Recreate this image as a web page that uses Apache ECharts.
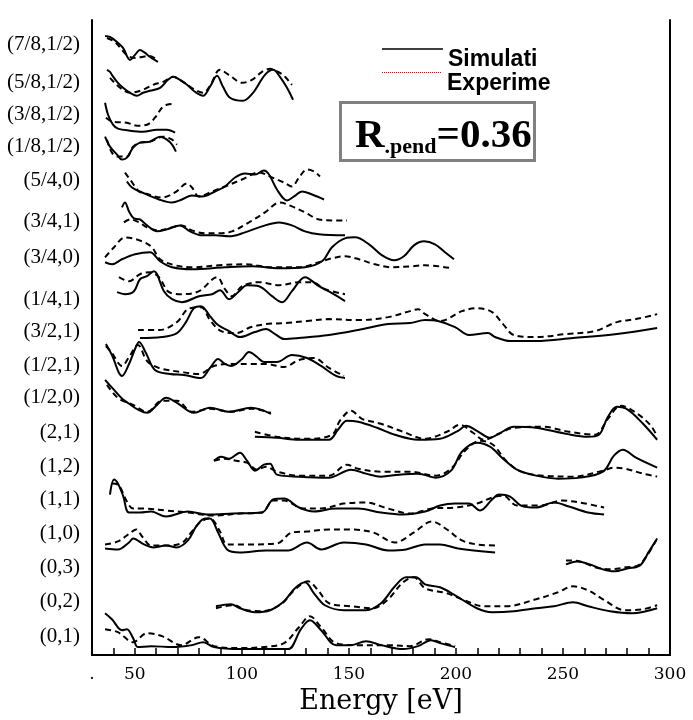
<!DOCTYPE html>
<html>
<head>
<meta charset="utf-8">
<script src="https://cdn.jsdelivr.net/npm/echarts@6/dist/echarts.min.js"></script>
<style>
  html, body { margin: 0; background: #fff; }
  #chart { width: 693px; height: 720px; }
</style>
</head>
<body>
<div id="chart"></div>
<script>
// beam labels, top to bottom
const rowLabels = ['(7/8,1/2)', '(5/8,1/2)', '(3/8,1/2)', '(1/8,1/2)', '(5/4,0)', '(3/4,1)', '(3/4,0)', '(1/4,1)', '(3/2,1)',
  '(1/2,1)', '(1/2,0)', '(2,1)', '(1,2)', '(1,1)', '(1,0)', '(0,3)', '(0,2)', '(0,1)']
// vertical offset of each curve (a.u.)
const rowOffset = [612, 574, 542, 510, 476, 435, 399, 357, 325, 290, 258, 223, 189, 156, 122, 88, 54, 19]
const xTickLabels = [30, 50, 100, 150, 200, 250, 300]

// simulated I(V) curves, [energy eV, intensity a.u.]
const simulated = [
  [[36.1, 9], [38.4, 8], [41.7, 3], [44.5, -3], [47.8, -15], [50.1, -10], [52.4, -5], [54.8, -8], [57.1, -12], [60.8, -17]],
  [[37.0, 13], [38.4, 11], [39.3, 8], [41.7, 1], [44.5, -5], [47.8, -10], [51.0, -13], [53.8, -10], [57.1, -8], [61.8, -5], [65.5, 3], [67.8, 6], [71.1, 3], [74.4, -2], [78.1, -9], [81.9, -13], [85.1, -4], [88.4, 7], [91.2, -4], [94.5, -15], [100.5, -18], [105.2, -10], [110.8, 8], [114.6, 13], [117.8, 6], [121.1, -5], [123.9, -17]],
  [[36.1, 12], [37.5, 0], [39.8, -10], [42.1, -14], [47.8, -16], [53.8, -17], [60.4, -15], [65.0, -15], [68.8, -18]],
  [[36.1, 10], [38.4, 0], [41.7, -8], [44.0, -13], [46.3, -11], [49.2, -1], [52.4, 4], [57.1, 5], [61.8, 10], [65.0, 7], [67.4, 2], [69.2, -5]],
  [[46.3, -1], [48.7, -7], [53.4, -12], [61.3, -19], [67.4, -22], [72.0, -19], [76.7, -15], [81.4, -16], [87.5, -11], [92.1, -6], [96.8, 3], [101.5, 7], [106.1, 6], [110.3, 10], [112.7, 6], [116.4, -9], [121.1, -20], [124.4, -16], [128.1, -11], [132.8, -14], [138.4, -19]],
  [[44.0, 14], [45.4, 19], [47.3, 10], [49.6, 3], [52.4, 2], [55.7, -4], [60.4, -10], [65.0, -8], [71.1, -4], [75.8, -10], [81.4, -14], [87.5, -14], [94.0, -15], [101.5, -11], [109.4, -5], [117.4, -1], [123.4, -4], [129.5, -10], [136.0, -13], [148.2, -14]],
  [[36.1, -5], [39.3, -7], [44.0, -2], [50.1, 3], [57.1, 5], [61.8, -4], [67.4, -10], [76.7, -12], [92.1, -10], [104.7, -9], [117.4, -11], [129.5, -10], [137.4, -4], [142.1, 10], [148.2, 19], [152.9, 20], [159.4, 13], [165.5, 2], [171.1, -3], [175.7, 1], [180.4, 12], [185.1, 16], [190.2, 13], [194.9, 5], [199.1, -2]],
  [[41.7, 7], [45.4, 5], [49.6, 8], [52.4, 20], [55.7, 23], [59.0, 28], [60.4, 25], [63.6, 8], [67.4, 0], [72.0, -3], [80.0, 3], [86.1, 5], [89.8, 9], [94.0, 0], [98.7, 8], [102.4, 14], [108.0, 13], [114.1, 3], [118.8, -3], [123.4, 8], [129.5, 22], [136.0, 13], [142.1, 6], [148.2, -2]],
  [[52.4, -7], [62.7, -6], [69.7, -2], [73.9, 9], [77.6, 23], [80.9, 25], [85.1, 15], [88.9, 6], [94.0, 0], [99.1, -6], [106.1, -1], [111.3, 2], [115.5, -3], [119.7, -8], [126.7, -7], [140.7, -4], [154.3, 1], [168.3, 7], [178.5, 8], [185.6, 11], [191.6, 10], [199.6, 4], [206.1, -4], [215.0, -2], [218.3, -6], [225.3, -10], [237.4, -10], [254.7, -7], [275.2, -3], [294.0, 3]],
  [[36.5, 22], [39.3, 11], [44.0, -10], [47.3, 2], [50.1, 17], [52.0, 24], [55.2, 13], [59.4, -4], [66.4, -8], [73.0, -9], [80.9, -12], [85.1, -2], [88.9, 7], [92.1, 2], [94.9, 0], [100.1, 7], [103.3, 14], [107.1, 9], [110.3, 4], [116.4, 4], [123.4, 11], [130.4, 8], [137.0, 0], [144.0, -10], [148.2, -12]],
  [[36.1, 18], [40.3, 8], [45.4, -3], [55.7, -15], [60.4, -7], [64.6, 0], [69.7, -5], [77.6, -15], [85.1, -10], [94.0, -14], [104.3, -10], [113.6, -16]],
  [[106.1, -4], [116.4, -5], [126.7, -7], [140.7, -7], [144.9, 3], [149.1, 12], [154.3, 11], [163.1, 5], [171.5, -2], [182.3, -7], [192.6, -6], [201.0, 2], [204.7, 7], [209.8, 2], [215.9, -5], [220.1, -1], [227.1, 6], [237.4, 5], [251.4, -1], [261.7, -4], [266.8, -2], [271.0, 16], [275.2, 26], [280.4, 23], [287.4, 9], [294.0, -7]],
  [[87.0, 6], [90.3, 10], [94.0, 8], [99.1, 14], [102.4, 6], [106.1, -4], [110.3, 2], [113.2, 3], [116.4, -8], [126.7, -10], [140.7, -11], [151.0, -3], [158.0, -7], [165.0, -10], [173.4, -8], [182.3, -7], [190.7, -11], [197.7, -4], [202.8, 15], [209.8, 24], [215.9, 20], [222.0, 8], [228.5, -3], [237.4, -9], [247.7, -12], [258.0, -11], [268.7, -5], [273.8, 11], [278.0, 17], [284.1, 9], [294.0, -1]],
  [[38.4, 5], [40.3, 20], [42.1, 16], [44.5, 4], [47.3, -13], [52.4, -13], [57.6, -12], [64.6, -17], [74.8, -12], [83.7, -15], [95.9, -14], [109.4, -13], [114.6, 0], [119.7, 1], [126.7, -8], [133.7, -12], [144.0, -9], [154.3, -9], [165.0, -13], [175.3, -15], [185.6, -12], [192.6, -6], [199.6, -4], [206.1, -4], [211.3, -11], [216.9, 0], [220.1, 5], [225.3, 3], [230.4, -6], [237.4, -8], [245.8, -3], [252.8, -7], [261.7, -13], [269.2, -15]],
  [[36.1, -15], [42.1, -16], [47.3, -9], [49.2, -5], [54.3, -11], [58.5, -14], [64.6, -12], [69.7, -14], [74.8, -7], [79.0, 8], [82.8, 15], [85.1, 15], [88.9, 1], [93.1, -16], [99.1, -19], [111.3, -17], [121.6, -17], [130.4, -9], [137.0, -16], [147.7, -9], [158.0, -11], [168.3, -17], [176.7, -16], [185.6, -11], [192.6, -11], [201.0, -15], [218.3, -19]],
  [[251.4, 3], [256.6, 6], [262.6, 3], [268.7, -2], [273.8, -4], [280.4, -1], [286.0, 2], [290.2, 16], [294.0, 29]],
  [[87.9, -5], [94.9, -3], [99.1, -7], [106.1, -11], [113.2, -9], [119.7, 0], [124.8, 13], [129.5, 19], [133.7, 8], [138.8, -4], [147.7, -9], [158.0, -9], [165.0, -2], [171.5, 15], [176.7, 24], [181.4, 24], [185.6, 17], [192.6, 14], [199.6, 6], [209.8, -7], [216.9, -11], [227.1, -10], [237.4, -7], [245.8, -5], [254.7, -1], [261.7, -5], [272.0, -10], [282.3, -12], [294.0, -7]],
  [[36.1, 23], [39.3, 17], [44.0, 6], [46.3, 7], [49.2, -2], [51.5, -11], [57.6, -10], [67.8, -11], [76.7, -9], [81.9, -6], [87.0, -11], [99.1, -13], [113.2, -13], [121.6, -13], [127.6, 7], [131.8, 16], [137.0, 6], [144.0, -9], [151.0, -9], [158.0, -5], [165.0, -9], [175.3, -13], [182.3, -10], [188.4, -4], [192.6, -7], [199.6, -11]]
]

// experimental I(V) curves, [energy eV, intensity a.u.]
const experiment = [
  [[37.0, 7], [40.7, 3], [44.0, -5], [46.8, -11], [50.1, -13], [53.4, -12], [57.1, -11], [60.8, -16]],
  [[38.4, 5], [43.1, -5], [47.8, -10], [53.8, -7], [58.5, -2], [63.2, 1], [67.8, 6], [72.5, 1], [78.1, -7], [81.9, -10], [85.1, -3], [89.8, 13], [94.5, 7], [100.1, 0], [104.7, 3], [109.4, 11], [113.2, 14], [117.8, 10], [120.2, 6], [123.4, -2]],
  [[36.5, -3], [39.8, -7], [46.3, -8], [51.0, -11], [55.7, -10], [59.4, -3], [62.7, 7], [65.0, 10], [68.8, 11]],
  [[37.0, 7], [39.3, -6], [42.1, -10], [46.3, -10], [49.2, 0], [52.4, 4], [57.1, 5], [63.2, 10], [67.4, 7], [69.7, 2]],
  [[45.4, 8], [47.8, 1], [52.0, -11], [54.8, -13], [62.7, -17], [68.8, -12], [74.4, -3], [76.7, -7], [80.0, -16], [86.1, -11], [92.1, -6], [100.1, 1], [108.0, 8], [114.1, 3], [119.7, -2], [123.4, -6], [126.7, 3], [130.4, 11], [133.7, 9], [136.5, 4]],
  [[44.9, -1], [47.8, 2], [52.0, -1], [55.7, -6], [61.3, -9], [67.4, -6], [72.0, -4], [76.7, -9], [82.8, -12], [89.3, -12], [95.4, -10], [103.3, -1], [110.8, 9], [117.8, 19], [123.4, 15], [129.5, 9], [136.0, 2], [142.1, 1], [149.1, 1]],
  [[36.1, 0], [40.3, 10], [45.4, 20], [53.4, 16], [58.0, 10], [61.8, -2], [68.8, -8], [76.7, -10], [89.3, -8], [101.5, -7], [114.1, -10], [126.7, -10], [136.0, -5], [142.1, -1], [148.2, 1], [154.7, -2], [162.2, -7], [170.1, -10], [179.5, -9], [185.6, -8], [198.2, -11]],
  [[42.6, 22], [47.3, 18], [52.4, 25], [57.1, 27], [61.3, 22], [66.0, 7], [72.0, 5], [80.0, 8], [88.4, 22], [92.1, 10], [95.4, 3], [100.1, 13], [108.0, 17], [117.4, 14], [126.7, 17], [132.8, 17], [138.8, 10], [148.2, 5]],
  [[51.5, 1], [61.3, 1], [69.7, 9], [74.8, 22], [80.9, 24], [85.1, 11], [90.3, 0], [97.3, -2], [104.3, 4], [111.3, 7], [119.7, 8], [130.4, 10], [140.7, 12], [154.3, 11], [168.3, 14], [178.5, 20], [182.3, 22], [185.6, 17], [192.6, 10], [202.8, 20], [209.8, 23], [216.9, 19], [222.0, 7], [227.1, -4], [237.4, -6], [251.4, -3], [265.0, 0], [275.2, 9], [284.1, 12], [294.0, 17]],
  [[36.5, 20], [39.3, 13], [44.0, 0], [47.3, 9], [51.5, 21], [55.7, 5], [61.3, -2], [71.6, -6], [80.0, -8], [87.0, 0], [95.9, 2], [104.3, 2], [111.3, 2], [119.7, -1], [126.7, 6], [133.7, 8], [140.7, -2], [147.7, -10]],
  [[37.0, 13], [42.1, 0], [49.2, -7], [55.7, -14], [62.7, -3], [69.7, -3], [76.7, -14], [85.1, -11], [94.9, -14], [104.3, -11], [113.6, -15]],
  [[106.1, 1], [116.4, -4], [130.4, -6], [142.1, -2], [145.8, 12], [151.0, 22], [156.1, 14], [165.0, 9], [175.3, 1], [185.6, -6], [195.8, 1], [201.9, 8], [208.0, 0], [213.1, -7], [220.1, -1], [227.1, 5], [240.7, 6], [252.8, 1], [265.0, -2], [271.0, 14], [277.1, 27], [284.1, 20], [291.1, 7], [294.0, -4]],
  [[87.0, 6], [92.1, 8], [97.3, 6], [102.4, 4], [107.1, -3], [111.3, 0], [116.4, -5], [126.7, -9], [140.7, -9], [149.1, 2], [154.3, -2], [165.0, -5], [178.5, -5], [190.7, -9], [197.7, -2], [204.7, 17], [211.3, 26], [217.3, 22], [223.4, 6], [230.4, -5], [240.7, -9], [254.7, -10], [268.7, -4], [273.8, -1], [279.0, -2], [287.4, -7], [294.0, -10]],
  [[39.3, 16], [42.1, 15], [46.3, -2], [49.2, -9], [54.3, -9], [64.6, -11], [74.8, -13], [87.0, -16], [99.1, -14], [109.4, -13], [114.6, -1], [119.7, -1], [128.6, -9], [137.0, -9], [147.7, -4], [158.0, -3], [168.3, -9], [178.5, -14], [188.8, -9], [199.6, -8], [209.8, -4], [216.9, 2], [222.0, 4], [228.5, -6], [239.3, -6], [249.6, -1], [258.0, -3], [269.2, -8]],
  [[36.1, -11], [42.1, -8], [48.2, 1], [50.6, 4], [53.4, -3], [57.6, -12], [64.6, -12], [71.6, -10], [76.7, 2], [80.9, 12], [85.1, 15], [89.8, 2], [93.1, -11], [102.4, -11], [116.4, -10], [123.4, 1], [130.4, 2], [140.7, 4], [151.0, 4], [161.3, 1], [171.5, -9], [180.4, 1], [188.8, 12], [195.8, 4], [202.8, -7], [209.8, -11], [218.3, -12]],
  [[251.4, 7], [258.0, 6], [265.0, 0], [272.0, -2], [279.0, 0], [285.1, 2], [289.3, 12], [293.5, 27]],
  [[87.9, -7], [95.9, -4], [102.4, -9], [109.4, -10], [118.3, -3], [124.4, 11], [130.9, 20], [135.6, 11], [140.7, -2], [151.0, -5], [161.3, -7], [168.3, 2], [175.3, 19], [180.4, 24], [185.6, 13], [195.8, 8], [202.8, 2], [213.1, -5], [223.4, -5], [237.4, 2], [247.7, 9], [254.7, 15], [261.7, 11], [268.7, 2], [279.0, -9], [287.4, -8], [294.0, -4]],
  [[36.1, 7], [42.1, 4], [49.2, -6], [55.7, 3], [62.7, 0], [71.6, -9], [80.0, -1], [87.0, -10], [99.1, -12], [109.4, -11], [119.7, -7], [126.7, 9], [131.8, 20], [137.0, 9], [144.0, -7], [154.3, -9], [168.3, -9], [178.5, -10], [187.4, -3], [192.6, -6], [199.6, -10]]
]

const series = []
rowLabels.forEach((label, i) => {
  series.push({
    name: 'Simulati', type: 'line', smooth: 0.35, symbol: 'none', silent: true,
    data: simulated[i].map(p => [p[0], rowOffset[i] + p[1]]),
    lineStyle: { color: '#000', width: 2 },
  })
  series.push({
    name: 'Experime', type: 'line', smooth: 0.35, symbol: 'none', silent: true,
    data: experiment[i].map(p => [p[0], rowOffset[i] + p[1]]),
    lineStyle: { color: '#000', width: 2, type: [6, 4] },
  })
})

// dotted legend swatch
let dots = ''
for (let k = 0; k < 60; k += 2) dots += `M${k},0h1v1h-1z`

const legendText = {
  fontFamily: 'Liberation Sans', fontWeight: 'bold', fontSize: 23, color: '#000',
  rich: { t: { fontFamily: 'Liberation Sans', fontWeight: 'bold', fontSize: 23, color: '#000', padding: [22, 0, 0, 0] } },
}

const chart = echarts.init(document.getElementById('chart'), null, { renderer: 'canvas' })
chart.setOption({
  animation: false,
  backgroundColor: '#fff',
  grid: { left: 92, right: 23, top: 20, bottom: 63 },
  title: {
    text: '{r|R}{s|.pend}{r|=0.36}',
    left: 340, top: 101,
    padding: [13, 3, 3, 15],
    borderColor: '#808080', borderWidth: 3,
    textStyle: {
      rich: {
        r: { fontFamily: 'Liberation Serif', fontWeight: 'bold', fontSize: 41, lineHeight: 44, color: '#000' },
        s: { fontFamily: 'Liberation Serif', fontWeight: 'bold', fontSize: 22, lineHeight: 16, verticalAlign: 'bottom', color: '#000' },
      },
    },
  },
  legend: [
    {
      data: ['Simulati'], left: 382, top: 48, padding: 0, itemWidth: 61, itemHeight: 2, selectedMode: false,
      icon: 'rect', itemStyle: { color: '#404040', borderWidth: 0 },
      formatter: '{t|{name}}', textStyle: legendText,
    },
    {
      data: ['Experime'], left: 382, top: 72, padding: 0, itemWidth: 61, itemHeight: 1, selectedMode: false,
      icon: 'path://' + dots, itemStyle: { color: '#ff0000', borderWidth: 0 },
      formatter: '{t|{name}}', textStyle: legendText,
    },
  ],
  xAxis: [
    {
      type: 'value', min: 30, max: 300, interval: 10, position: 'bottom',
      name: 'Energy [eV]', nameLocation: 'middle', nameGap: 32,
      nameTextStyle: { fontFamily: 'DejaVu Serif', fontSize: 27, color: '#000' },
      axisLine: { lineStyle: { color: '#000', width: 2 } },
      axisTick: { inside: true, length: 7, lineStyle: { color: '#000', width: 1.5 } },
      axisLabel: {
        customValues: xTickLabels, margin: 11, color: '#000',
        fontFamily: 'DejaVu Serif', fontSize: 17,
        formatter: v => (v === 30 ? '.' : String(v)),
      },
      splitLine: { show: false },
    },
    {
      type: 'value', min: 30, max: 300, interval: 10, position: 'top',
      axisLine: { lineStyle: { color: '#000', width: 2 } },
      axisTick: { inside: false, length: 7, lineStyle: { color: '#000', width: 1.5 } },
      axisLabel: { show: false },
      splitLine: { show: false },
    },
  ],
  yAxis: [
    {
      type: 'value', min: 0, max: 637, position: 'left',
      axisLine: { show: true, lineStyle: { color: '#000', width: 2 } },
      axisTick: { show: false },
      axisLabel: {
        customValues: rowOffset, margin: 12, color: '#000',
        fontFamily: 'Liberation Serif', fontSize: 21,
        formatter: v => rowLabels[rowOffset.indexOf(v)] || '',
      },
      splitLine: { show: false },
    },
    {
      type: 'value', min: 0, max: 637, position: 'right',
      axisLine: { show: true, lineStyle: { color: '#000', width: 2 } },
      axisTick: { show: false }, axisLabel: { show: false }, splitLine: { show: false },
    },
  ],
  series,
})
</script>
</body>
</html>
